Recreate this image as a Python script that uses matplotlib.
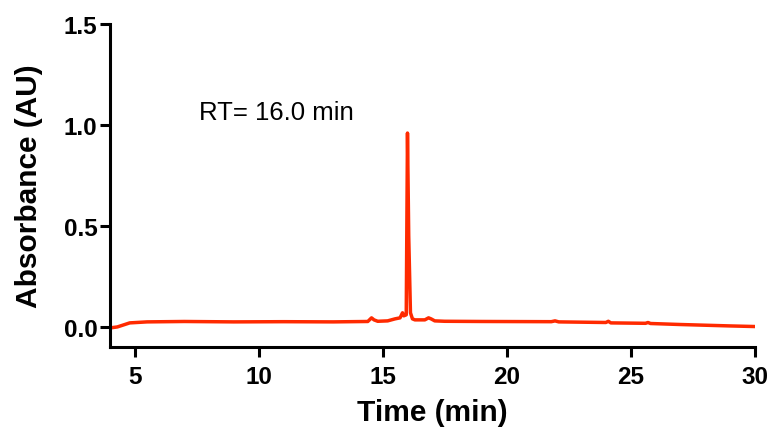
import matplotlib
matplotlib.use("Agg")
import matplotlib.pyplot as plt

# chromatogram trace
time_min = [4.0, 4.3, 4.8, 5.5, 7.0, 9.0, 11.0, 13.0, 14.4, 14.55, 14.65, 14.8,
            15.2, 15.5, 15.7, 15.8, 15.85, 15.95, 16.0, 16.05, 16.12, 16.2,
            16.3, 16.5, 16.7, 16.85, 16.95, 17.1, 17.5, 19.0, 21.8, 21.95,
            22.1, 24.0, 24.1, 24.2, 25.6, 25.7, 25.8, 27.0, 29.0, 30.0]
absorbance = [-0.005, 0.0, 0.02, 0.025, 0.027, 0.025, 0.026, 0.025, 0.027,
              0.045, 0.035, 0.028, 0.03, 0.04, 0.045, 0.07, 0.055, 0.06, 0.96,
              0.45, 0.07, 0.04, 0.035, 0.035, 0.035, 0.045, 0.04, 0.03, 0.028,
              0.027, 0.026, 0.03, 0.025, 0.022, 0.028, 0.02, 0.018, 0.022,
              0.017, 0.012, 0.005, 0.002]

x_ticks = [5, 10, 15, 20, 25, 30]
y_ticks = [0.0, 0.5, 1.0, 1.5]

plt.rcParams['font.family'] = ['Liberation Sans', 'DejaVu Sans']

fig = plt.figure(figsize=(7.74, 4.39), dpi=100)
ax = fig.add_axes([0.142, 0.207, 0.833, 0.736])

ax.plot(time_min, absorbance, color='#ff2a00', lw=2.5)

ax.set_xlim(4, 30)
ax.set_ylim(-0.1, 1.5)
ax.set_xticks(x_ticks)
ax.set_yticks(y_ticks)
ax.set_yticklabels(['%.1f' % v for v in y_ticks])

for s in ['top', 'right']:
    ax.spines[s].set_visible(False)
for s in ['left', 'bottom']:
    ax.spines[s].set_linewidth(2.2)
ax.tick_params(width=2.2, length=7, labelsize=17.5)
ax.tick_params(axis='x', pad=6)
ax.tick_params(axis='y', pad=2)
for lab in ax.get_xticklabels() + ax.get_yticklabels():
    lab.set_fontweight('bold')

ax.set_xlabel('Time (min)', fontsize=21.5, fontweight='bold', labelpad=7)
ax.set_ylabel('Absorbance (AU)', fontsize=21.5, fontweight='bold', labelpad=15)

ax.text(7.6, 1.03, 'RT= 16.0 min', fontsize=18.5)

fig.savefig('out.png', dpi=100)
